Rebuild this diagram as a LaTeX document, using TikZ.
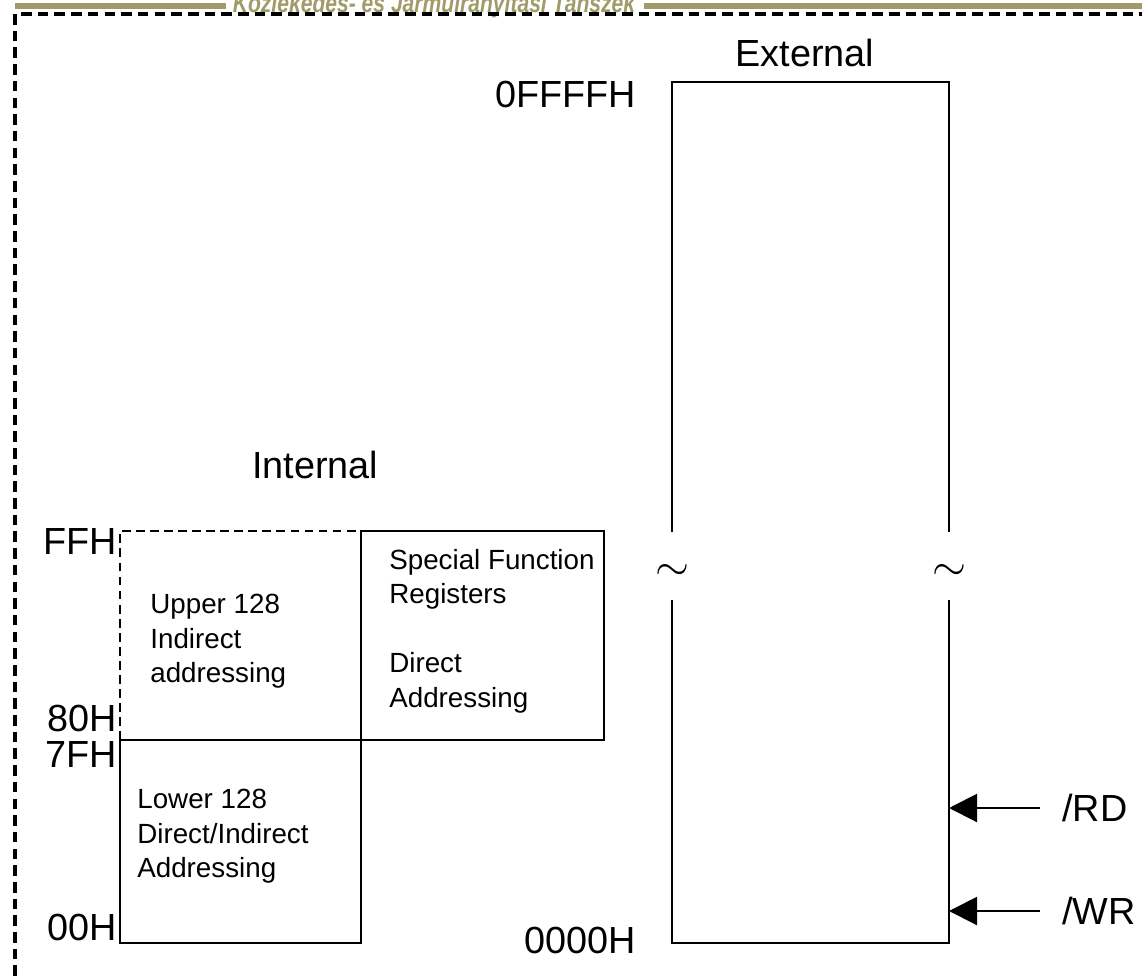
\documentclass[tikz,border=0pt]{standalone}
\usepackage{fontspec}
\setmainfont{Liberation Sans}
\newfontfamily\deptfont[FakeStretch=0.8]{Liberation Sans}
\usetikzlibrary{arrows.meta,positioning}
\definecolor{deptolive}{HTML}{A09B69}

\begin{document}
\begin{tikzpicture}[
  x=0.02cm, y=-0.02cm,
  addr/.style={font=\fontsize{21.5}{23}\selectfont, inner sep=0pt},
  area/.style={font=\fontsize{15.8}{19.6}\selectfont, align=left, inner sep=0pt, anchor=north west},
  brk/.style={font=\fontsize{24}{24}\selectfont, inner sep=0pt},
  sigl/.style={font=\fontsize{21.5}{23}\selectfont, inner xsep=4.4mm, inner ysep=0pt, anchor=west},
  mem/.style={line width=1.2pt},
  memdash/.style={line width=1.1pt, dash pattern=on 5pt off 3pt},
  frame/.style={line width=1.8pt, dash pattern=on 6pt off 3.5pt},
  sig/.style={-{Triangle[length=5.6mm, width=5.6mm]}, line width=1.2pt},
  bar/.style={deptolive, line width=3.4pt}
]
  \useasboundingbox (0,0) rectangle (1142,976);
  \clip (0,0) rectangle (1142,976);

  % slide header, cut at the top
  \draw[bar] (15,6) -- (226,6);
  \draw[bar] (644,6) -- (1142,6);
  \node[font=\deptfont\fontsize{15}{16}\selectfont\bfseries\itshape, text=deptolive, anchor=base, inner sep=0pt] (dept) at (434,12.5) {Közlekedés- és Járműirányítási Tanszék};
  \draw[frame] (15,976) -- (15,14) -- (1142,14);

  % internal memory
  \coordinate (itl) at (120,531);
  \coordinate (itm) at (361,531);
  \coordinate (itr) at (604,531);
  \coordinate (iml) at (120,740);
  \coordinate (imm) at (361,740);
  \coordinate (imr) at (604,740);
  \coordinate (ibl) at (120,943);
  \coordinate (ibm) at (361,943);

  \draw[memdash] (iml) -- (itl) -- (itm);
  \draw[mem] (itm) rectangle (imr);
  \draw[mem] (iml) rectangle (ibm);

  \node[addr, anchor=base] (int) at (315,478) {Internal};
  \node[addr, anchor=base east] (ffh) at (117,554) {FFH};
  \node[addr, anchor=base east] (h80) at (117,731) {80H};
  \node[addr, anchor=base east] (h7f) at (117,767) {7FH};
  \node[addr, anchor=base east] (h00) at (117,940) {00H};

  \node[area] (upper) at (150,594) {Upper 128\\Indirect\\addressing};
  \node[area] (sfr) at (389,549) {Special Function\\Registers\\[19.6pt]Direct\\Addressing};
  \node[area] (lower) at (137,789) {Lower 128\\Direct/Indirect\\Addressing};

  % external memory
  \coordinate (etl) at (672,82);
  \coordinate (etr) at (949,82);
  \coordinate (ebl) at (672,943);
  \coordinate (ebr) at (949,943);
  \coordinate (elu) at (672,532);
  \coordinate (eld) at (672,600);
  \coordinate (eru) at (949,532);
  \coordinate (erd) at (949,600);

  \draw[mem] (elu) -- (etl) -- (etr) -- (eru);
  \draw[mem] (eld) -- (ebl) -- (ebr) -- (erd);
  \node[brk] (lbrk) at (672,572) {$\sim$};
  \node[brk] (rbrk) at (949,572) {$\sim$};

  \node[addr, anchor=base] (ext) at (805,67) {External};
  \node[addr, anchor=base east] (top) at (636,108) {0FFFFH};
  \node[addr, anchor=base east] (bot) at (636,953) {0000H};

  \coordinate (rdin) at (949,808);
  \coordinate (wrin) at (949,911);
  \node[sigl] (rd) at (1040,808) {/RD};
  \node[sigl] (wr) at (1040,911) {/WR};
  \draw[sig] (rd.west) -- (rdin);
  \draw[sig] (wr.west) -- (wrin);
\end{tikzpicture}
\end{document}
